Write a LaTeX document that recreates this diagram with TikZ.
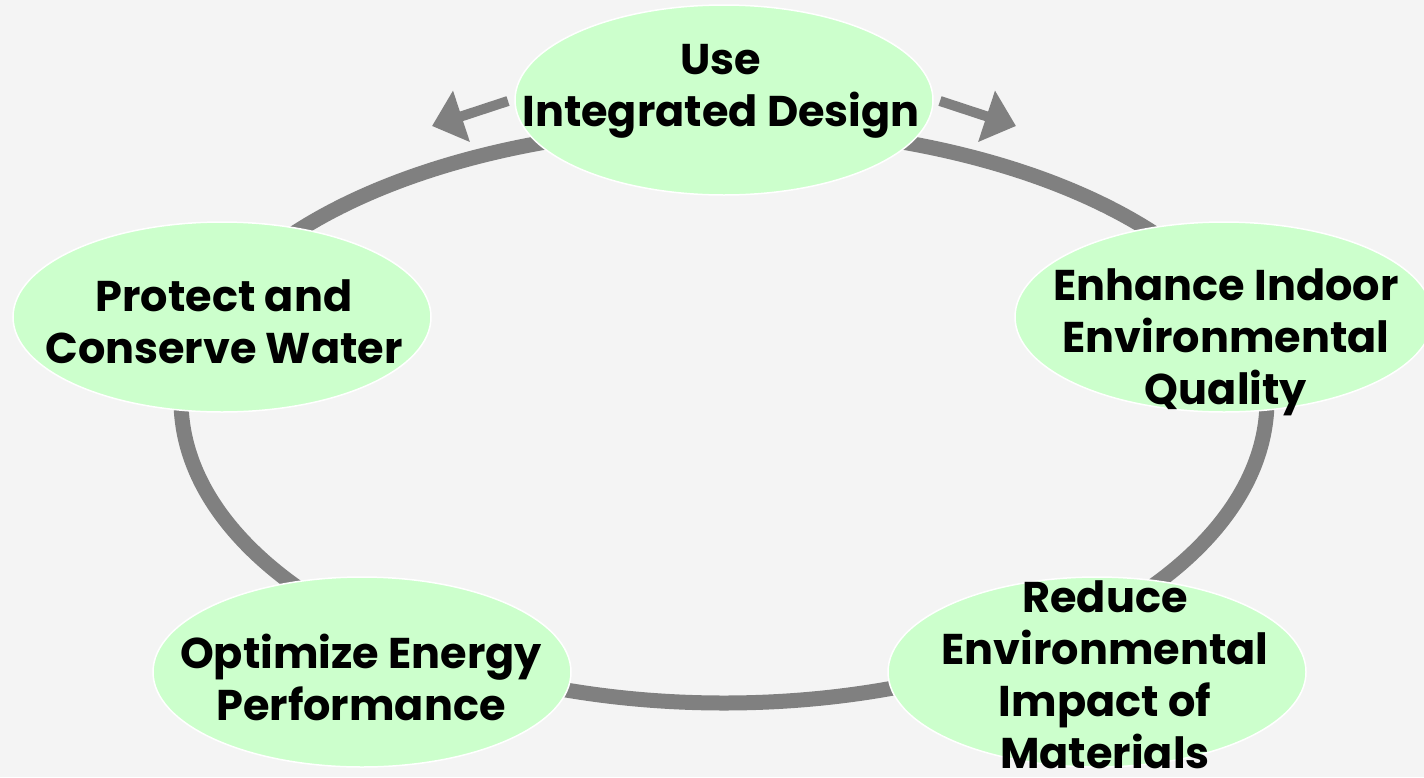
\documentclass[tikz,border=0pt]{standalone}
\usepackage{fontspec}
\setmainfont{Poppins}
\usetikzlibrary{arrows.meta,shapes.geometric}
\definecolor{bgcol}{HTML}{F4F4F4}
\definecolor{blobfill}{HTML}{CCFFCC}
\definecolor{ringgray}{HTML}{808080}
\begin{document}
\begin{tikzpicture}[x=1pt,y=-1pt,
  blob/.style={ellipse, fill=blobfill, draw=white, line width=1.5pt,
    minimum width=418pt, minimum height=190pt, inner sep=0pt},
  lbl/.style={align=center, font=\bfseries\fontsize{43}{52}\selectfont,
    text=black, anchor=base, inner sep=0pt},
  ringline/.style={draw=ringgray, line width=15pt},
  arr/.style={draw=ringgray, line width=10pt, -{Triangle[length=31pt,width=52pt]}}]
\useasboundingbox (0,0) rectangle (1424,777);
\fill[bgcol] (0,0) rectangle (1424,777);
\clip (0,0) rectangle (1424,777);
% ring
\draw[ringline] (181,400)
  arc[start angle=180,end angle=360,x radius=543,y radius=273]
  arc[start angle=0,end angle=180,x radius=543,y radius=303] -- cycle;
% nodes
\node[blob] (use) at (724,100) {};
\node[blob] (ieq) at (1224,317) {};
\node[blob] (pcw) at (222,317) {};
\node[blob] (oep) at (362,672) {};
\node[blob] (rei) at (1097,672) {};
% arrows
\coordinate (al0) at (508,101);
\coordinate (al1) at (432,126);
\coordinate (ar0) at (940,101);
\coordinate (ar1) at (1016,126);
\draw[arr] (al0) -- (al1);
\draw[arr] (ar0) -- (ar1);
% labels (anchor = baseline of last line)
\node[lbl] (useT) at (721,126) {Use\\Integrated Design};
\node[lbl] (ieqT) at (1226,404) {Enhance Indoor\\Environmental\\Quality};
\node[lbl] (pcwT) at (224,363) {Protect and\\Conserve Water};
\node[lbl] (oepT) at (361,720) {Optimize Energy\\Performance};
\node[lbl] (reiT) at (1105,768) {Reduce\\Environmental\\Impact of\\Materials};
\end{tikzpicture}
\end{document}
